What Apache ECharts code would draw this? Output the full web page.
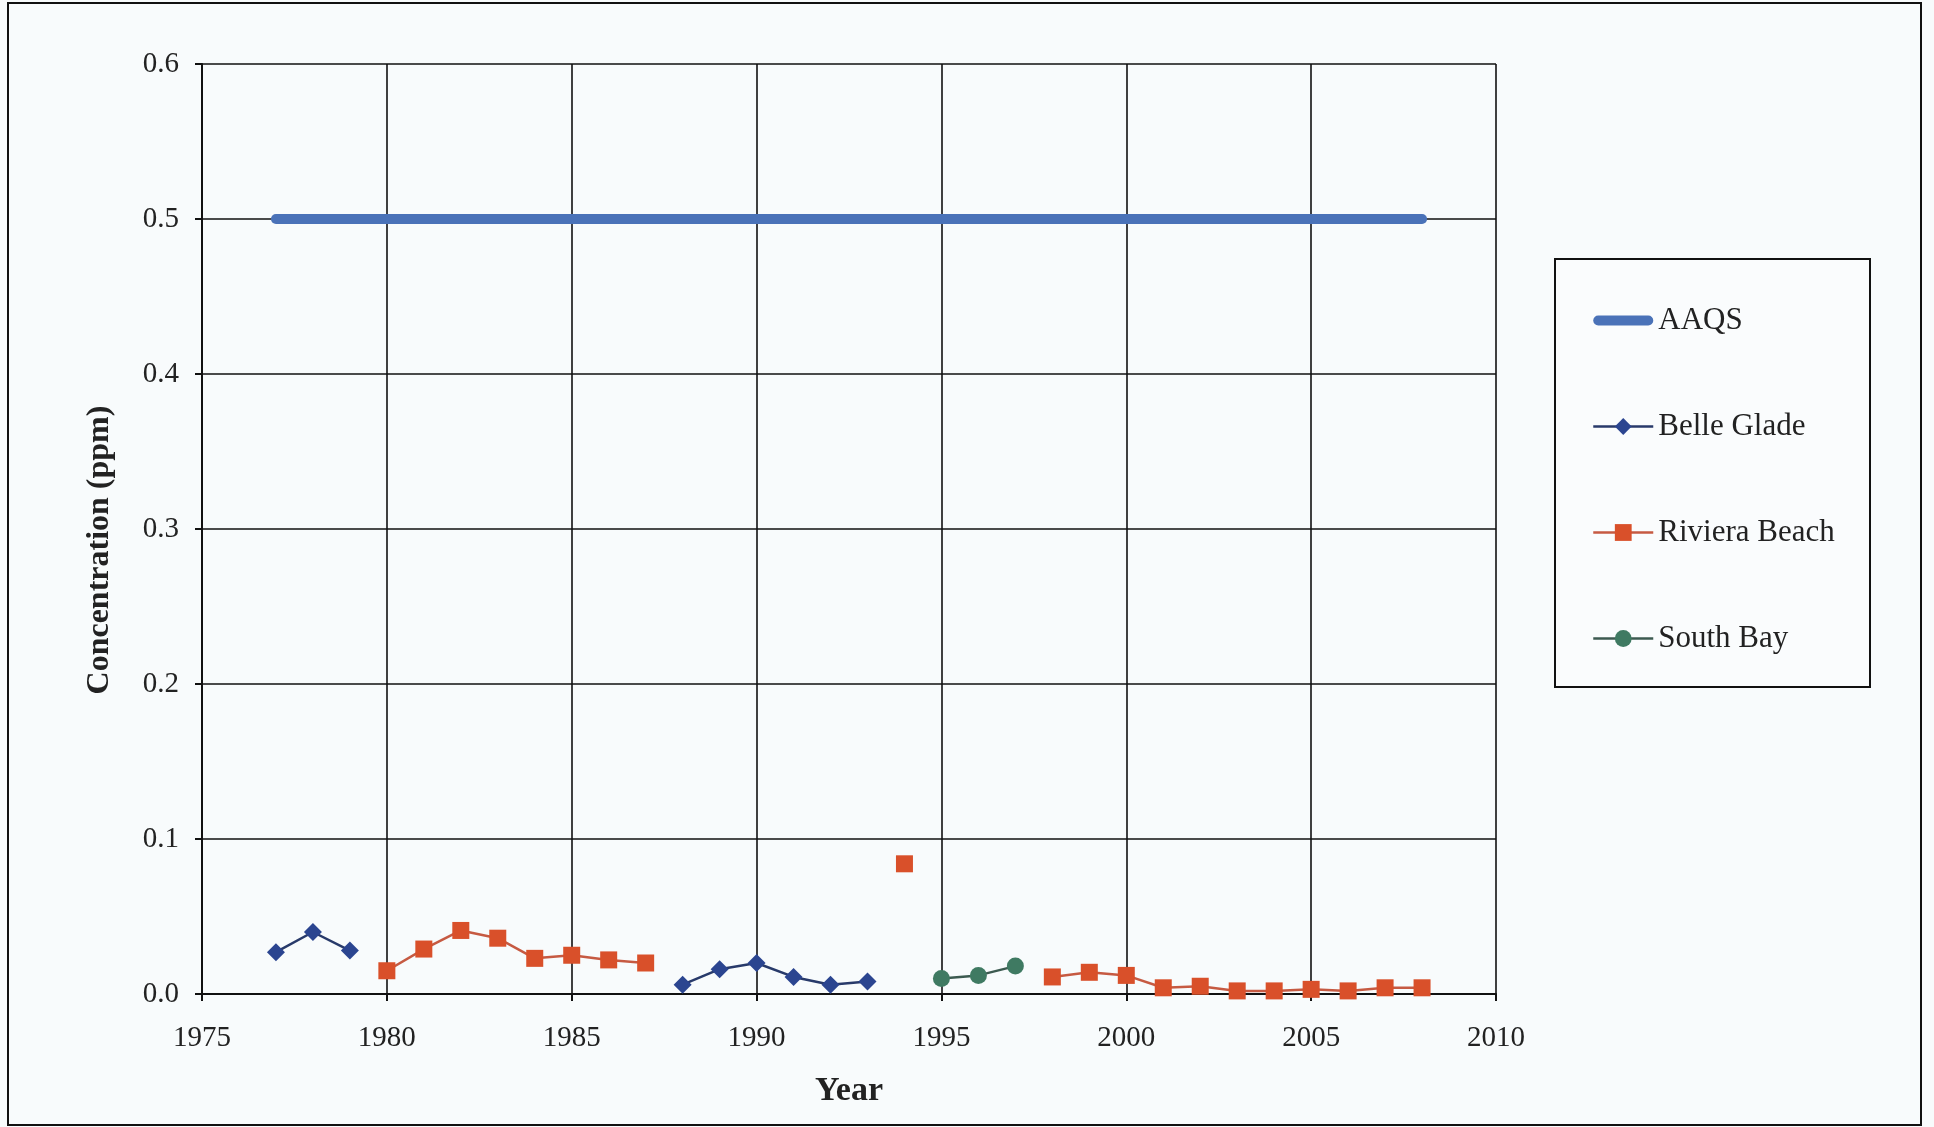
<!DOCTYPE html>
<html>
<head>
<meta charset="utf-8">
<title>Concentration (ppm) by Year</title>
<script src="https://cdn.jsdelivr.net/npm/echarts@6/dist/echarts.min.js"></script>
<style>
  html, body { margin: 0; padding: 0; background: #f8fbfc; }
  #chart { width: 1934px; height: 1127px; }
</style>
</head>
<body>
<div id="chart"></div>
<script>
// Annual concentrations (ppm); null marks a year with no reading, which breaks the line.
const aaqsYears = [1977, 2008];
const aaqsValues = [0.5, 0.5];

const belleGladeYears = [1977, 1978, 1979, 1980, 1981, 1982, 1983, 1984, 1985, 1986, 1987,
  1988, 1989, 1990, 1991, 1992, 1993];
const belleGladeValues = [0.027, 0.040, 0.028, null, null, null, null, null, null, null, null,
  0.006, 0.016, 0.020, 0.011, 0.006, 0.008];

const rivieraYears = [1980, 1981, 1982, 1983, 1984, 1985, 1986, 1987, 1988, 1989, 1990, 1991,
  1992, 1993, 1994, 1995, 1996, 1997, 1998, 1999, 2000, 2001, 2002, 2003, 2004, 2005, 2006,
  2007, 2008];
const rivieraValues = [0.015, 0.029, 0.041, 0.036, 0.023, 0.025, 0.022, 0.020, null, null,
  null, null, null, null, 0.084, null, null, null, 0.011, 0.014, 0.012, 0.004, 0.005, 0.002,
  0.002, 0.003, 0.002, 0.004, 0.004];

const southBayYears = [1995, 1996, 1997];
const southBayValues = [0.010, 0.012, 0.018];

const xTicks = { min: 1975, max: 2010, step: 5 };
const yTicks = { min: 0, max: 0.6, step: 0.1 };

function pairs(xs, ys) {
  return xs.map((x, i) => [x, ys[i]]);
}

const font = '"Liberation Serif", "Times New Roman", serif';
const ink = '#222';

const colors = {
  aaqs: '#4a72b8',
  belle: '#2b4590', belleLine: '#283a6a',
  riviera: '#d9502a', rivieraLine: '#c65a42',
  south: '#3f7a62', southLine: '#3c5a50'
};

// Thick rounded bar used as the standard's legend key
const barIcon = 'path://M5,0 H55 A5,5 0 0 1 55,10 H5 A5,5 0 0 1 5,0 Z';

const chart = echarts.init(document.getElementById('chart'), null, { renderer: 'canvas' });

chart.setOption({
  backgroundColor: '#f8fbfc',
  animation: false,
  textStyle: { fontFamily: font, color: ink },
  graphic: [
    {
      type: 'rect', z: -1, silent: true,
      shape: { x: 8, y: 3, width: 1913, height: 1122 },
      style: { fill: 'transparent', stroke: '#111', lineWidth: 2 }
    },
    {
      type: 'rect', z: -1, silent: true,
      shape: { x: 1555, y: 259, width: 315, height: 428 },
      style: { fill: '#fafcfd', stroke: '#111', lineWidth: 2 }
    }
  ],
  grid: { left: 202, right: 438, top: 64, bottom: 133, containLabel: false },
  legend: {
    orient: 'vertical',
    left: 1587,
    top: 300,
    itemWidth: 60,
    itemHeight: 21,
    itemGap: 75,
    symbolKeepAspect: true,
    textStyle: { fontFamily: font, fontSize: 31, color: ink },
    data: [
      { name: 'AAQS', icon: barIcon, itemStyle: { color: colors.aaqs } },
      { name: 'Belle Glade', lineStyle: { width: 2.5, color: colors.belleLine } },
      { name: 'Riviera Beach', lineStyle: { width: 2.5, color: colors.rivieraLine } },
      { name: 'South Bay', lineStyle: { width: 2.5, color: colors.southLine } }
    ]
  },
  xAxis: {
    type: 'value',
    min: xTicks.min, max: xTicks.max, interval: xTicks.step,
    name: 'Year',
    nameLocation: 'middle',
    nameGap: 80,
    nameTextStyle: { fontFamily: font, fontSize: 34, fontWeight: 'bold', color: ink },
    axisLine: { show: true, onZero: false, lineStyle: { color: '#111', width: 2 } },
    axisTick: { show: true, inside: false, length: 7, lineStyle: { color: '#111', width: 2 } },
    axisLabel: { fontFamily: font, fontSize: 29, color: ink, margin: 30, formatter: v => String(v) },
    splitLine: { show: true, lineStyle: { color: '#111', width: 1.6 } }
  },
  yAxis: {
    type: 'value',
    min: yTicks.min, max: yTicks.max, interval: yTicks.step,
    name: 'Concentration (ppm)',
    nameLocation: 'middle',
    nameGap: 86,
    nameTextStyle: { fontFamily: font, fontSize: 32, fontWeight: 'bold', color: ink, padding: [0, 42, 0, 0] },
    axisLine: { show: true, lineStyle: { color: '#111', width: 2 } },
    axisTick: { show: true, inside: false, length: 7, lineStyle: { color: '#111', width: 2 } },
    axisLabel: { fontFamily: font, fontSize: 29, color: ink, margin: 23, formatter: v => v.toFixed(1) },
    splitLine: { show: true, lineStyle: { color: '#111', width: 1.6 } }
  },
  series: [
    {
      name: 'AAQS',
      type: 'line',
      data: pairs(aaqsYears, aaqsValues),
      showSymbol: false,
      symbol: 'none',
      color: colors.aaqs,
      lineStyle: { color: colors.aaqs, width: 10, cap: 'round' },
      z: 3
    },
    {
      name: 'Belle Glade',
      type: 'line',
      data: pairs(belleGladeYears, belleGladeValues),
      connectNulls: false,
      symbol: 'diamond',
      symbolSize: 18,
      color: colors.belle,
      itemStyle: { color: colors.belle },
      lineStyle: { color: colors.belleLine, width: 2.5 },
      z: 4
    },
    {
      name: 'Riviera Beach',
      type: 'line',
      data: pairs(rivieraYears, rivieraValues),
      connectNulls: false,
      symbol: 'rect',
      symbolSize: 17,
      color: colors.riviera,
      itemStyle: { color: colors.riviera },
      lineStyle: { color: colors.rivieraLine, width: 2.5 },
      z: 4
    },
    {
      name: 'South Bay',
      type: 'line',
      data: pairs(southBayYears, southBayValues),
      connectNulls: false,
      symbol: 'circle',
      symbolSize: 17,
      color: colors.south,
      itemStyle: { color: colors.south },
      lineStyle: { color: colors.southLine, width: 2.5 },
      z: 4
    }
  ]
});
</script>
</body>
</html>
